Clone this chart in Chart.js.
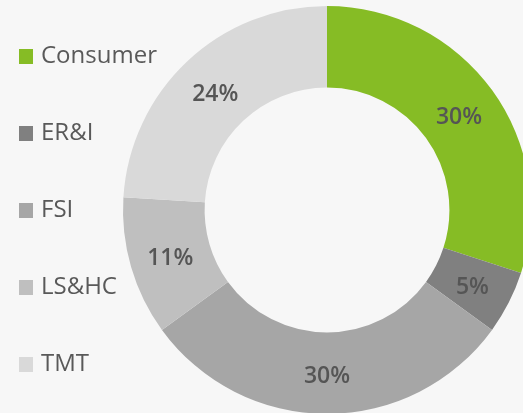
<!DOCTYPE html>
<html>
<head>
<meta charset="utf-8">
<script src="https://cdn.jsdelivr.net/npm/chart.js@4"></script>
<style>
  html, body { margin: 0; padding: 0; background: #f7f7f7; overflow: hidden; }
  #wrap { position: absolute; left: 0; top: 0; width: 540px; height: 420px; }
  #legend { position: absolute; left: 19px; top: 0; font-family: "Open Sans", sans-serif; font-size: 24px; color: #595959; }
  .item { position: absolute; left: 0; white-space: nowrap; line-height: 24px; }
  .box { display: inline-block; width: 14px; height: 15px; margin-right: 8px; vertical-align: -1px; }
</style>
</head>
<body>
<div id="wrap"><canvas id="myChart" width="540" height="420"></canvas></div>
<div id="legend"></div>
<script>
const labels = ["Consumer", "ER&I", "FSI", "LS&HC", "TMT"];
const shares = [30, 5, 30, 11, 24];
const colors = ["#86bc25", "#808080", "#a6a6a6", "#bfbfbf", "#d9d9d9"];

// percentage text in the middle of every slice
const sliceLabels = {
  id: "sliceLabels",
  afterDatasetsDraw(chart) {
    const ctx = chart.ctx;
    const meta = chart.getDatasetMeta(0);
    ctx.save();
    ctx.font = "600 23px 'Open Sans'";
    ctx.fillStyle = "#555555";
    ctx.textAlign = "center";
    ctx.textBaseline = "middle";
    meta.data.forEach((arc, i) => {
      const p = arc.tooltipPosition();
      ctx.fillText(shares[i] + "%", p.x, p.y + 3);
    });
    ctx.restore();
  }
};

new Chart("myChart", {
  type: "doughnut",
  data: {
    labels: labels,
    datasets: [{
      data: shares,
      backgroundColor: colors,
      borderWidth: 0
    }]
  },
  options: {
    responsive: false,
    animation: false,
    cutout: "60%",
    layout: { padding: { left: 123, top: 6, right: 9, bottom: 6 } },
    plugins: {
      legend: { display: false },
      tooltip: { enabled: false }
    }
  },
  plugins: [sliceLabels]
});

const legend = document.getElementById("legend");
labels.forEach((name, i) => {
  const item = document.createElement("div");
  item.className = "item";
  item.style.top = (42 + i * 77) + "px";
  const box = document.createElement("span");
  box.className = "box";
  box.style.background = colors[i];
  item.appendChild(box);
  item.appendChild(document.createTextNode(name));
  legend.appendChild(item);
});
</script>
</body>
</html>
